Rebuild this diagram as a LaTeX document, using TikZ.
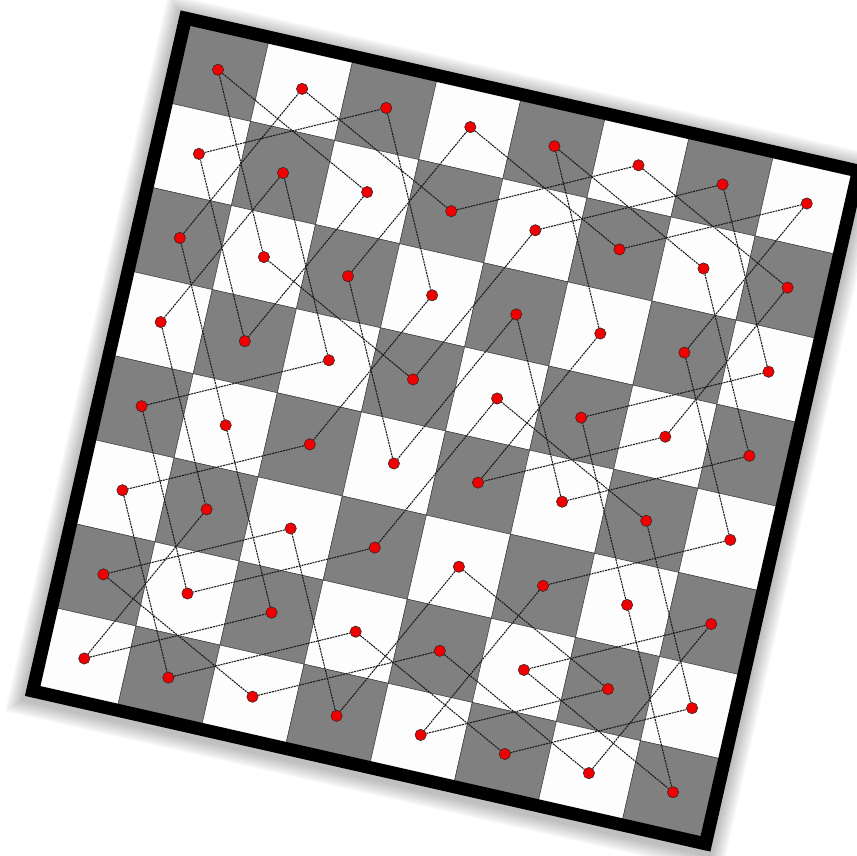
\documentclass[tikz,border=0pt]{standalone}
\usepackage{tikz}
\usetikzlibrary{calc}
\definecolor{boardgrey}{HTML}{808080}
\definecolor{boardwhite}{HTML}{FDFDFD}
\definecolor{dotred}{HTML}{F00000}

\begin{document}
\begin{tikzpicture}[
    field/.style={draw=black!75, line width=0.45pt},
    knight/.style={circle, fill=dotred, draw=black!85, line width=0.45pt,
                   inner sep=0pt, minimum size=0.34cm},
    tour/.style={black!90, line width=0.9pt, dash pattern=on 1.7pt off 0.7pt}]
  \useasboundingbox (0,0) rectangle (25.71,25.65);
  \begin{scope}[shift={(13.365,12.72)}, rotate=-12.8, x=2.5875cm, y=2.5875cm]
    \foreach \b in {0.02,0.04,...,0.18}
      \fill[black, opacity=0.03] (-4.08-\b,-4.12-\b) rectangle (4.08+\b,4.05+\b);
    \foreach \r in {0,...,7}
      \foreach \c in {0,...,7}{%
        \ifodd\numexpr\r+\c\relax \def\shade{boardwhite}\else \def\shade{boardgrey}\fi
        \filldraw[field, fill=\shade] (\c-4,3-\r) rectangle ++(1,1);}
    \draw[line width=0.39cm] (-4,-4) rectangle (4,4);
    \foreach \r in {0,...,7}
      \foreach \c in {0,...,7}
        \node[knight] (k\r\c) at (\c-3.5,3.5-\r) {};
    \foreach \n [remember=\n as \last (initially 00)] in
      {12,31,10,02,23,42,50,71,63,75,67,46,34,53,61,40,
       32,11,30,51,70,62,41,20,01,13,05,17,36,44,25,04,
       16,37,45,24,43,22,03,15,07,26,47,55,74,66,54,73,
       52,60,72,64,76,57,65,77,56,35,27,06,14,33,21,00}
      \draw[tour] (k\last) -- (k\n);
  \end{scope}
\end{tikzpicture}
\end{document}
